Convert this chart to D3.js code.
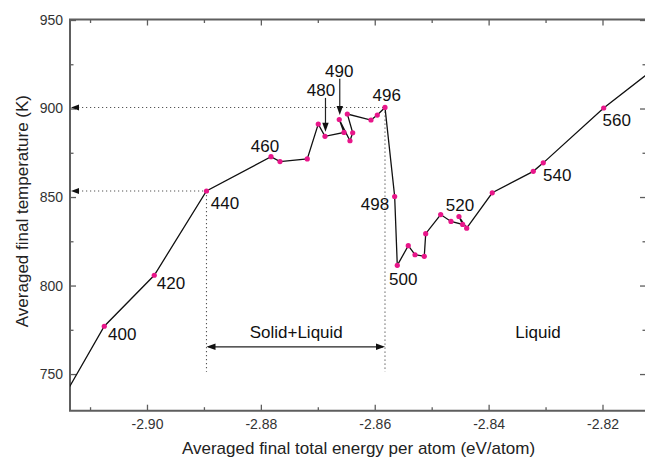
<!DOCTYPE html>
<html>
<head>
<meta charset="utf-8">
<script src="https://cdn.jsdelivr.net/npm/d3@7"></script>
<style>
  html, body { margin: 0; padding: 0; background: #fff; }
  svg { display: block; font-family: "Liberation Sans", Arial, Helvetica, sans-serif; }
</style>
</head>
<body>
<svg id="chart" width="645" height="459"></svg>
<script>
// ---------------- data ----------------
const energy = [
  -2.9150, -2.9075, -2.89872, -2.88955, -2.87822, -2.87664, -2.87185, -2.86992,
  -2.86874, -2.86540, -2.86623, -2.86435, -2.86387, -2.86482, -2.86066, -2.85955,
  -2.85820, -2.85650, -2.85604, -2.85411, -2.85293, -2.85130, -2.85105, -2.84842,
  -2.84661, -2.84456, -2.84521, -2.84385, -2.83936, -2.83216, -2.83040, -2.81979,
  -2.80990
];
const temperature = [
  735.0, 777.0, 805.8, 853.4, 872.8, 870.0, 871.5, 891.2,
  884.3, 886.5, 893.8, 881.8, 886.3, 896.9, 893.5, 896.3,
  900.6, 850.3, 811.4, 822.5, 817.4, 816.5, 829.3, 840.1,
  836.2, 834.5, 839.0, 832.4, 852.4, 864.5, 869.3, 900.3,
  925.0
];
const labelIndex = [1, 2, 3, 4, 8, 10, 16, 17, 18, 26, 30, 31];
const labelText  = ["400", "420", "440", "460", "480", "490", "496", "498", "500", "520", "540", "560"];
const xMajorTicks = [-2.90, -2.88, -2.86, -2.84, -2.82];
const xMinorTicks = [-2.91, -2.89, -2.87, -2.85, -2.83, -2.81];
const yMajorTicks = [750, 800, 850, 900, 950];
const yMinorTicks = [775, 825, 875, 925];
const regionText = ["Solid+Liquid", "Liquid"];
const xTitle = "Averaged final total energy per atom (eV/atom)";
const yTitle = "Averaged final temperature (K)";
// indices of the points that bound the solid+liquid region
const regionStart = 3, regionEnd = 16;
const arrowedLabels = [4, 5]; // positions in labelIndex that use a pointer arrow

// ---------------- layout ----------------
const L = 70, R = 646, T = 19.5, B = 410.7;
const labelOffsets = [
  [18, 7.3], [16.7, 7.7], [18.5, 11.8], [-6, -11], [-4, -46.4], [0, -48.7],
  [1.7, -12.4], [-19.7, 7.3], [6, 13.3], [1, -11.7], [14, 12], [13, 11.7]
];

const svg = d3.select("#chart");
const x = d3.scaleLinear().domain([-2.91352, -2.81236]).range([L, R]);
const y = d3.scaleLinear().domain([729.3, 950]).range([B, T + 0.5]);

const axisColor = "#5e5e5e";
const textColor = "#333";
const fmtX = v => d3.format(".2f")(v).replace("\u2212", "-");

svg.append("defs").append("clipPath").attr("id", "clip")
  .append("rect").attr("x", L).attr("y", T).attr("width", R - L).attr("height", B - T);

// axes (ticks inward)
function styleAxis(g) {
  g.select(".domain").remove();
  g.selectAll(".tick line").attr("stroke", axisColor).attr("stroke-width", 1.3);
  g.selectAll(".tick text").attr("fill", textColor).attr("font-size", 14)
    .attr("font-family", "'Liberation Sans', Arial, sans-serif");
}
svg.append("g").attr("transform", `translate(0,${B})`)
  .call(d3.axisBottom(x).tickValues(xMajorTicks).tickSize(-6).tickPadding(8.7).tickFormat(fmtX))
  .call(styleAxis);
svg.append("g").attr("transform", `translate(0,${B})`)
  .call(d3.axisBottom(x).tickValues(xMinorTicks).tickSize(-3.5).tickFormat(""))
  .call(styleAxis);
svg.append("g").attr("transform", `translate(0,${T})`)
  .call(d3.axisTop(x).tickValues(xMajorTicks).tickSize(-6).tickFormat(""))
  .call(styleAxis);
svg.append("g").attr("transform", `translate(0,${T})`)
  .call(d3.axisTop(x).tickValues(xMinorTicks).tickSize(-3.5).tickFormat(""))
  .call(styleAxis);
svg.append("g").attr("transform", `translate(${L},0)`)
  .call(d3.axisLeft(y).tickValues(yMajorTicks).tickSize(-6).tickPadding(7).tickFormat(d3.format("d")))
  .call(styleAxis);
svg.append("g").attr("transform", `translate(${L},0)`)
  .call(d3.axisLeft(y).tickValues(yMinorTicks).tickSize(-3.5).tickFormat(""))
  .call(styleAxis);
svg.append("g").attr("transform", `translate(${R},0)`)
  .call(d3.axisRight(y).tickValues(yMajorTicks).tickSize(-6).tickFormat(""))
  .call(styleAxis);
svg.append("g").attr("transform", `translate(${R},0)`)
  .call(d3.axisRight(y).tickValues(yMinorTicks).tickSize(-3.5).tickFormat(""))
  .call(styleAxis);

// frame
svg.append("path")
  .attr("d", `M${L},${T}H${R}V${B}H${L}Z`)
  .attr("fill", "none").attr("stroke", axisColor).attr("stroke-width", 2);

// axis titles
svg.append("text").attr("x", (L + 645) / 2 + 1).attr("y", 453.5)
  .attr("text-anchor", "middle").attr("font-size", 17).attr("fill", "#222").text(xTitle);
svg.append("text").attr("transform", `translate(28,${(T + B) / 2 - 4}) rotate(-90)`)
  .attr("text-anchor", "middle").attr("font-size", 17).attr("fill", "#222").text(yTitle);

// guide lines (dotted)
const dotted = svg.append("g").attr("stroke", "#555").attr("stroke-width", 1.1)
  .attr("stroke-dasharray", "1.2,2.8").attr("fill", "none");
const bottomGuideT = 751.3;
[regionStart, regionEnd].forEach(i => {
  const px = x(energy[i]), py = y(temperature[i]);
  dotted.append("line").attr("x1", L + 8).attr("x2", px).attr("y1", py).attr("y2", py);
  dotted.append("line").attr("x1", px).attr("x2", px).attr("y1", py).attr("y2", y(bottomGuideT));
  // small arrow head at the left axis
  svg.append("path")
    .attr("d", `M${L + 1},${py}L${L + 9},${py - 3}L${L + 9},${py + 3}Z`)
    .attr("fill", "#111");
});

// double arrow for Solid+Liquid region
const arrowT = 765.4;
const ax1 = x(energy[regionStart]), ax2 = x(energy[regionEnd]), ay = y(arrowT);
svg.append("line").attr("x1", ax1 + 2).attr("x2", ax2 - 2).attr("y1", ay).attr("y2", ay)
  .attr("stroke", "#222").attr("stroke-width", 1.2);
svg.append("path").attr("d", `M${ax1},${ay}L${ax1 + 9},${ay - 3.2}L${ax1 + 9},${ay + 3.2}Z`).attr("fill", "#111");
svg.append("path").attr("d", `M${ax2},${ay}L${ax2 - 9},${ay - 3.2}L${ax2 - 9},${ay + 3.2}Z`).attr("fill", "#111");
svg.append("text").attr("x", (ax1 + ax2) / 2 + 0.5).attr("y", ay - 8.5)
  .attr("text-anchor", "middle").attr("font-size", 17).attr("fill", "#111").text(regionText[0]);
svg.append("text").attr("x", x(-2.83133)).attr("y", ay - 8.5)
  .attr("text-anchor", "middle").attr("font-size", 17).attr("fill", "#111").text(regionText[1]);

// data line & points
const pts = energy.map((e, i) => [e, temperature[i]]);
const plot = svg.append("g").attr("clip-path", "url(#clip)");
plot.append("path").datum(pts)
  .attr("d", d3.line().x(d => x(d[0])).y(d => y(d[1])))
  .attr("fill", "none").attr("stroke", "#111").attr("stroke-width", 1.3);
plot.selectAll("circle").data(pts).join("circle")
  .attr("cx", d => x(d[0])).attr("cy", d => y(d[1])).attr("r", 2.6)
  .attr("fill", "#e8168a");

// point labels
labelIndex.forEach((idx, k) => {
  const px = x(energy[idx]), py = y(temperature[idx]);
  const [dx, dy] = labelOffsets[k];
  svg.append("text").attr("x", px + dx).attr("y", py + dy + 6.2)
    .attr("text-anchor", "middle").attr("font-size", 17).attr("fill", "#111")
    .text(labelText[k]);
  if (arrowedLabels.includes(k)) {
    const x0 = px + 0.5, y0 = py + dy + 8, y1 = py - 4.5;
    svg.append("line").attr("x1", x0).attr("x2", x0).attr("y1", y0).attr("y2", y1 - 6)
      .attr("stroke", "#222").attr("stroke-width", 1.2);
    svg.append("path").attr("d", `M${x0},${y1}L${x0 - 3.2},${y1 - 9}L${x0 + 3.2},${y1 - 9}Z`).attr("fill", "#111");
  }
});
</script>
</body>
</html>
